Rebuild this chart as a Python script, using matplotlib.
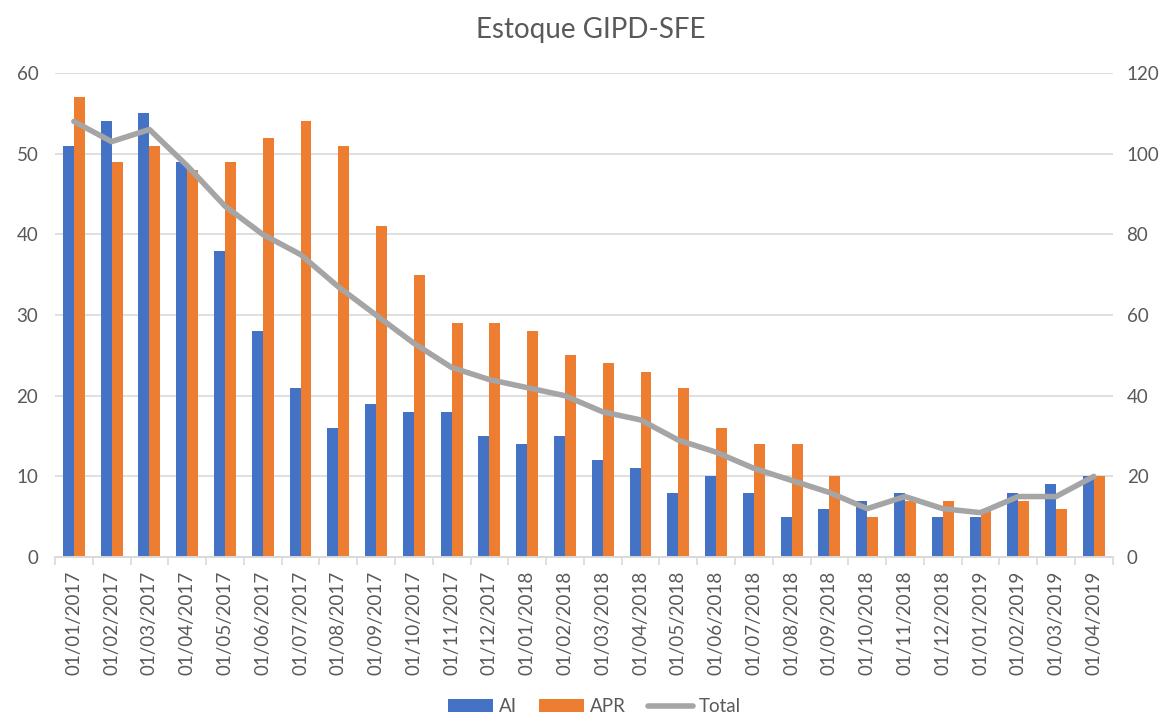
import matplotlib.pyplot as plt
import numpy as np

datas = ["01/01/2017", "01/02/2017", "01/03/2017", "01/04/2017", "01/05/2017",
         "01/06/2017", "01/07/2017", "01/08/2017", "01/09/2017", "01/10/2017",
         "01/11/2017", "01/12/2017", "01/01/2018", "01/02/2018", "01/03/2018",
         "01/04/2018", "01/05/2018", "01/06/2018", "01/07/2018", "01/08/2018",
         "01/09/2018", "01/10/2018", "01/11/2018", "01/12/2018", "01/01/2019",
         "01/02/2019", "01/03/2019", "01/04/2019"]
ai = [51, 54, 55, 49, 38, 28, 21, 16, 19, 18, 18, 15, 14, 15, 12, 11, 8, 10,
      8, 5, 6, 7, 8, 5, 5, 8, 9, 10]
apr = [57, 49, 51, 48, 49, 52, 54, 51, 41, 35, 29, 29, 28, 25, 24, 23, 21, 16,
       14, 14, 10, 5, 7, 7, 6, 7, 6, 10]
total = [108, 103, 106, 97, 87, 80, 75, 67, 60, 53, 47, 44, 42, 40, 36, 34, 29,
         26, 22, 19, 16, 12, 15, 12, 11, 15, 15, 20]

plt.rcParams['font.family'] = ['Lato', 'DejaVu Sans']
txt = '#595959'

fig = plt.figure(figsize=(11.75, 7.16), dpi=100)
ax = fig.add_axes([0.0468, 0.222, 0.9002, 0.676])
ax2 = ax.twinx()

x = np.arange(len(datas))
w = 0.29
ax.bar(x - w / 2, ai, w, color='#4472C4', label='AI', zorder=2)
ax.bar(x + w / 2, apr, w, color='#ED7D31', label='APR', zorder=2)
ax2.plot(x, total, color='#A5A5A5', lw=4, label='Total', solid_capstyle='round', zorder=3)

ax.set_xlim(-0.5, len(datas) - 0.5)
ax.set_ylim(0, 60)
ax2.set_ylim(0, 120)
ax.set_yticks(range(0, 61, 10))
ax2.set_yticks(range(0, 121, 20))
ax.grid(axis='y', color='#D9D9D9', lw=1.2, zorder=0)
ax.set_axisbelow(True)

ax.set_xticks(x)
ax.set_xticklabels(datas, rotation=90)
ax.set_xticks(np.arange(-0.5, len(datas), 1), minor=True)
ax.tick_params(axis='x', which='major', length=0, pad=10, labelsize=13.5, labelcolor=txt)
ax.tick_params(axis='x', which='minor', length=6, color='#D9D9D9', width=1.2)
ax.tick_params(axis='y', length=0, labelsize=13.5, labelcolor=txt, pad=12)
ax2.tick_params(axis='y', length=0, labelsize=13.5, labelcolor=txt, pad=10)

for a in (ax, ax2):
    for s in ('top', 'left', 'right'):
        a.spines[s].set_visible(False)
    a.spines['bottom'].set_color('#D9D9D9')
    a.spines['bottom'].set_linewidth(1.2)

fig.text(0.503, 0.958, 'Estoque GIPD-SFE', ha='center', va='center', fontsize=20, color=txt)

h1, l1 = ax.get_legend_handles_labels()
h2, l2 = ax2.get_legend_handles_labels()
fig.legend(h1 + h2, l1 + l2, loc='center', bbox_to_anchor=(0.506, 0.013), ncol=3,
           frameon=False, fontsize=13.5, labelcolor=txt, handlelength=2.4,
           handleheight=0.7, handletextpad=0.3, columnspacing=1.2)

fig.savefig('out.png', dpi=100)
